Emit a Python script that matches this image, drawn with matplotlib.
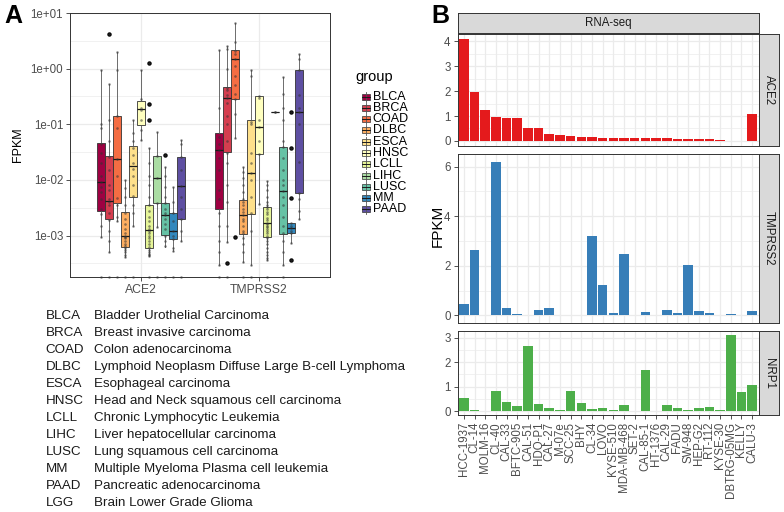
import matplotlib
matplotlib.use("Agg")
import matplotlib.pyplot as plt
from matplotlib.patches import Rectangle
from matplotlib.ticker import FixedLocator, FuncFormatter, MultipleLocator

plt.rcParams["font.family"] = ["Liberation Sans", "DejaVu Sans"]

W, H = 784, 512

# ---- panel A data (TCGA, FPKM, log scale) ----
GROUPS = ["BLCA", "BRCA", "COAD", "DLBC", "ESCA", "HNSC",
          "LCLL", "LIHC", "LUSC", "MM", "PAAD"]
GROUP_COLORS = ["#9E0142", "#D53E4F", "#F46D43", "#FDAE61", "#FEE08B",
                "#FFFFBF", "#E6F598", "#ABDDA4", "#66C2A5", "#3288BD",
                "#5E4FA2"]
GENES_A = ["ACE2", "TMPRSS2"]

ACE2_LO = [0.00096, 0.0005, 0.0018, 0.00041, 0.0015, 0.053, 0.00043,
           0.00145, 0.00063, 0.00052, 0.00079]
ACE2_Q1 = [0.0028, 0.002, 0.0039, 0.00063, 0.0049, 0.098, 0.00059,
           0.0039, 0.00103, 0.00087, 0.002]
ACE2_MED = [0.0093, 0.0041, 0.024, 0.00097, 0.018, 0.19, 0.00126,
            0.0107, 0.0023, 0.0012, 0.0079]
ACE2_Q3 = [0.047, 0.027, 0.14, 0.0026, 0.040, 0.26, 0.0035,
           0.027, 0.0038, 0.0025, 0.026]
ACE2_HI = [0.95, 0.52, 2.0, 0.010, 0.12, 0.95, 0.037,
           0.074, 0.017, 0.0076, 0.052]
ACE2_OUT = [[], [4.2], [], [], [], [], [1.26, 0.23, 0.12], [], [0.028], [], []]
ACE2_PTS = [
    [0.95, 0.1, 0.085, 0.045, 0.03, 0.02, 0.012, 0.009, 0.0075, 0.006,
     0.0045, 0.003, 0.0024, 0.0015, 0.00096, 0],
    [4.2, 0.52, 0.12, 0.05, 0.026, 0.015, 0.008, 0.0065, 0.0045, 0.004,
     0.0035, 0.0025, 0.0019, 0.0012, 0.0008, 0.0005, 0],
    [2.0, 0.95, 0.14, 0.085, 0.024, 0.012, 0.0048, 0.0035, 0.0022, 0.0018, 0],
    [0.01, 0.0072, 0.005, 0.0035, 0.0025, 0.002, 0.0016, 0.0013, 0.0011,
     0.001, 0.00095, 0.0009, 0.0008, 0.0007, 0.00065, 0.0006, 0.00055,
     0.0005, 0.00045, 0.00041, 0],
    [0.12, 0.07, 0.05, 0.038, 0.028, 0.02, 0.016, 0.012, 0.008, 0.0052,
     0.0035, 0.0025, 0.0015, 0],
    [0.95, 0.28, 0.2, 0.18, 0.12, 0.08, 0.053],
    [1.26, 0.23, 0.12, 0.037, 0.02, 0.012, 0.008, 0.005, 0.0035, 0.0028,
     0.0022, 0.0018, 0.0015, 0.0013, 0.0012, 0.0011, 0.001, 0.0009, 0.0008,
     0.0007, 0.00062, 0.00055, 0.0005, 0.00047, 0.00045, 0.00043, 0],
    [0.074, 0.027, 0.0107, 0.0039, 0.00145, 0],
    [0.028, 0.017, 0.012, 0.0075, 0.005, 0.0038, 0.003, 0.0025, 0.0023,
     0.002, 0.0016, 0.0013, 0.001, 0.0008, 0.00065, 0],
    [0.0076, 0.004, 0.0025, 0.0018, 0.0012, 0.001, 0.00088, 0.0006,
     0.00052, 0],
    [0.052, 0.045, 0.026, 0.015, 0.0079, 0.005, 0.003, 0.002, 0.0012,
     0.00079, 0],
]

TMPRSS2_LO = [0.0003, 0.00078, 0.056, 0.00034, 0.0003, 0.0037, 0.00036,
              0.165, 0.0003, 0.00073, 0.002]
TMPRSS2_Q1 = [0.003, 0.032, 0.28, 0.00107, 0.0024, 0.029, 0.00096,
              0.165, 0.00107, 0.0011, 0.0059]
TMPRSS2_MED = [0.034, 0.30, 1.49, 0.0023, 0.0135, 0.089, 0.00166,
               0.165, 0.0064, 0.00135, 0.165]
TMPRSS2_Q3 = [0.071, 0.47, 2.2, 0.0044, 0.117, 0.32, 0.0033,
              0.165, 0.039, 0.0017, 0.93]
TMPRSS2_HI = [2.2, 2.6, 6.5, 0.017, 0.93, 0.32, 0.0097,
              0.165, 0.72, 0.0017, 1.86]
TMPRSS2_OUT = [[], [0.00032], [0.00093], [], [], [], [], [], [],
               [0.165, 0.037, 0.0047, 0.00036], []]
TMPRSS2_PTS = [
    [2.2, 0.2, 0.06, 0.045, 0.034, 0.025, 0.015, 0.0065, 0.0045, 0.0025,
     0.0015, 0.0008, 0.0005, 0.0003, 0],
    [2.6, 2.3, 1.0, 0.45, 0.42, 0.33, 0.3, 0.24, 0.14, 0.1, 0.05, 0.03,
     0.02, 0.008, 0.004, 0.0015, 0.00078, 0.00032, 0],
    [6.5, 3.0, 2.1, 1.8, 1.5, 1.1, 0.75, 0.5, 0.35, 0.28, 0.15, 0.056,
     0.00093],
    [0.017, 0.014, 0.011, 0.008, 0.006, 0.0045, 0.004, 0.0035, 0.003,
     0.0026, 0.0023, 0.002, 0.0018, 0.0015, 0.0012, 0.0011, 0.0009,
     0.0007, 0.0005, 0.00034, 0],
    [0.93, 0.75, 0.11, 0.1, 0.03, 0.02, 0.0135, 0.01, 0.005, 0.0025,
     0.0012, 0.0003, 0],
    [0.32, 0.3, 0.12, 0.089, 0.05, 0.029, 0.0037],
    [0.0097, 0.008, 0.0065, 0.005, 0.004, 0.0035, 0.0033, 0.003, 0.0027,
     0.0024, 0.0021, 0.0019, 0.0017, 0.0016, 0.0015, 0.0014, 0.0013,
     0.0012, 0.0011, 0.001, 0.0009, 0.0008, 0.0007, 0.0006, 0.0005,
     0.00045, 0.0004, 0.00036, 0],
    [0.165, 0.165],
    [0.72, 0.35, 0.2, 0.12, 0.05, 0.039, 0.025, 0.015, 0.01, 0.008,
     0.0064, 0.005, 0.0035, 0.0022, 0.0015, 0.0011, 0.0008, 0.0005,
     0.0003, 0],
    [0.165, 0.037, 0.0047, 0.0017, 0.0015, 0.00135, 0.0012, 0.0011,
     0.00073, 0.00036],
    [1.86, 1.5, 0.93, 0.33, 0.2, 0.165, 0.1, 0.021, 0.0059, 0.0045,
     0.0028, 0.002],
]

TCGA_CODES = GROUPS + ["LGG"]
TCGA_NAMES = [
    "Bladder Urothelial Carcinoma",
    "Breast invasive carcinoma",
    "Colon adenocarcinoma",
    "Lymphoid Neoplasm Diffuse Large B-cell Lymphoma",
    "Esophageal carcinoma",
    "Head and Neck squamous cell carcinoma",
    "Chronic Lymphocytic Leukemia",
    "Liver hepatocellular carcinoma",
    "Lung squamous cell carcinoma",
    "Multiple Myeloma Plasma cell leukemia",
    "Pancreatic adenocarcinoma",
    "Brain Lower Grade Glioma",
]

# ---- panel B data (cell lines, RNA-seq FPKM) ----
CELL_LINES = ["HCC-1937", "CL-14", "MOLM-16", "CL-40", "CAL-33",
              "BFTC-905", "CAL-51", "HDQ-P1", "CAL-27", "M-07e", "SCC-25",
              "BHY", "CL-34", "LOVO", "KYSE-510", "MDA-MB-468", "SET-2",
              "CAL-85-1", "HT-1376", "CAL-29", "FADU", "SW-948", "HEP-G2",
              "RT-112", "KYSE-30", "DBTRG-05MG", "KELLY", "CALU-3"]
ACE2_B = [4.09, 1.95, 1.25, 0.95, 0.93, 0.93, 0.51, 0.51, 0.28, 0.23,
          0.20, 0.16, 0.16, 0.13, 0.12, 0.12, 0.12, 0.11, 0.11, 0.10,
          0.09, 0.09, 0.08, 0.07, 0.05, 0.01, 0.01, 1.10]
TMPRSS2_B = [0.45, 2.63, 0.0, 6.2, 0.31, 0.04, 0.02, 0.23, 0.31, 0.0,
             0.0, 0.0, 3.19, 1.23, 0.11, 2.47, 0.0, 0.12, 0.03, 0.21,
             0.09, 2.03, 0.17, 0.08, 0.01, 0.07, 0.0, 0.17]
NRP1_B = [0.54, 0.03, 0.0, 0.81, 0.38, 0.23, 2.66, 0.28, 0.15, 0.03,
          0.84, 0.32, 0.09, 0.13, 0.06, 0.25, 0.0, 1.68, 0.01, 0.25,
          0.11, 0.03, 0.13, 0.16, 0.06, 3.12, 0.79, 1.05]
GENES_B = ["ACE2", "TMPRSS2", "NRP1"]
GENE_COLORS_B = ["#E41A1C", "#377EB8", "#4DAF4A"]

GRID = "#EBEBEB"
BORDER = "#333333"
TICKTXT = "#4D4D4D"


def px_axes(fig, x0, y0, x1, y1):
    return fig.add_axes([x0 / W, 1 - y1 / H, (x1 - x0) / W, (y1 - y0) / H])


def style_axes(ax):
    for s in ax.spines.values():
        s.set_color(BORDER)
        s.set_linewidth(0.7)
    ax.tick_params(colors=BORDER, labelcolor=TICKTXT, labelsize=8.3,
                   length=3, width=0.6, pad=2)
    ax.tick_params(which="minor", length=0)
    ax.set_axisbelow(True)


fig = plt.figure(figsize=(W / 100, H / 100), dpi=100)

# ---------------- panel A ----------------
axA = px_axes(fig, 70, 13, 330, 277)
style_axes(axA)
axA.set_yscale("log")
ymin_a = 1.8e-4

gene_sets = [
    (ACE2_LO, ACE2_Q1, ACE2_MED, ACE2_Q3, ACE2_HI, ACE2_OUT, ACE2_PTS),
    (TMPRSS2_LO, TMPRSS2_Q1, TMPRSS2_MED, TMPRSS2_Q3, TMPRSS2_HI,
     TMPRSS2_OUT, TMPRSS2_PTS),
]
dodge = 0.75 / len(GROUPS)
for g, (lo, q1, med, q3, hi, outs, pts) in enumerate(gene_sets):
    for j, grp in enumerate(GROUPS):
        pos = (g + 1) - 0.375 + (j + 0.5) * dodge
        st = [dict(whislo=lo[j], q1=q1[j], med=med[j], q3=q3[j],
                   whishi=hi[j], fliers=outs[j])]
        axA.bxp(st, positions=[pos], widths=dodge, patch_artist=True,
                showcaps=False, manage_ticks=False,
                boxprops=dict(facecolor=GROUP_COLORS[j], edgecolor=BORDER,
                              lw=0.6),
                medianprops=dict(color="#1A1A1A", lw=0.9),
                whiskerprops=dict(color="#555555", lw=0.6),
                flierprops=dict(marker="o", markerfacecolor="black",
                                markeredgecolor="none", markersize=3.2))
        vals = [v if v > 0 else ymin_a for v in pts[j]]
        axA.scatter([pos] * len(vals), vals, s=3.5, color="#333333",
                    alpha=0.55, lw=0, zorder=4, clip_on=False)

axA.set_ylim(ymin_a, 10)
axA.set_xlim(0.4, 2.6)
axA.yaxis.set_major_locator(FixedLocator([1e-3, 1e-2, 1e-1, 1, 10]))
axA.yaxis.set_minor_locator(FixedLocator([10 ** (k + 0.5) for k in range(-4, 1)]))
axA.yaxis.set_major_formatter(FuncFormatter(lambda v, p: "{:.0e}".format(v)))
axA.yaxis.set_minor_formatter(FuncFormatter(lambda v, p: ""))
axA.set_xticks([1, 2])
axA.set_xticklabels(GENES_A, fontsize=8.8)
axA.grid(True, which="major", color=GRID, lw=0.9)
axA.grid(True, which="minor", axis="y", color=GRID, lw=0.5)

axA.set_ylabel("FPKM", fontsize=9, color="black")
axA.yaxis.label.set_va("center")
axA.yaxis.set_label_coords(-0.2, 0.5)

# legend for panel A
legA = px_axes(fig, 350, 60, 440, 225)
legA.set_xlim(350, 440)
legA.set_ylim(225, 60)
legA.axis("off")
legA.text(355, 77, "group", fontsize=10.5, va="center", ha="left")
for j, grp in enumerate(GROUPS):
    y = 96.7 + j * 11.26
    legA.plot([365.5, 365.5], [y - 5, y + 5], color="#555555", lw=0.6)
    legA.add_patch(Rectangle((361.5, y - 3), 8, 6, facecolor=GROUP_COLORS[j],
                             edgecolor=BORDER, lw=0.5))
    legA.plot([361.5, 369.5], [y, y], color="#1A1A1A", lw=0.7)
    legA.text(372.5, y, grp, fontsize=9, va="center", ha="left")

# abbreviation table
for i, (code, name) in enumerate(zip(TCGA_CODES, TCGA_NAMES)):
    y = 316 + i * 17.03
    fig.text(45.7 / W, 1 - y / H, code, fontsize=9.6, va="center",
             color="#1A1A1A")
    fig.text(94.3 / W, 1 - y / H, name, fontsize=9.6, va="center",
             color="#1A1A1A")

fig.text(13 / W, 1 - 16 / H, "A", fontsize=18, fontweight="bold",
         ha="center", va="center")
fig.text(440 / W, 1 - 16 / H, "B", fontsize=18, fontweight="bold",
         ha="center", va="center")

# ---------------- panel B ----------------
tops = [34, 154, 331]
bots = [146, 323, 415]
xl, xr = 457.5, 758.5
values_b = [ACE2_B, TMPRSS2_B, NRP1_B]
yticks_b = [[0, 1, 2, 3, 4], [0, 2, 4, 6], [0, 1, 2, 3]]
xs = list(range(len(CELL_LINES)))

strip = px_axes(fig, xl, 13, xr, 33)
strip.set_facecolor("#D9D9D9")
strip.set_xticks([])
strip.set_yticks([])
for s in strip.spines.values():
    s.set_color(BORDER)
    s.set_linewidth(0.7)
strip.text(0.5, 0.5, "RNA-seq", transform=strip.transAxes, ha="center",
           va="center", fontsize=8.3, color="#1A1A1A")

for k, gene in enumerate(GENES_B):
    ax = px_axes(fig, xl, tops[k], xr, bots[k])
    style_axes(ax)
    vals = values_b[k]
    ax.bar(xs, vals, width=0.9, color=GENE_COLORS_B[k], zorder=2)
    vmax = max(vals)
    ax.set_ylim(-0.05 * vmax, 1.05 * vmax)
    ax.set_xlim(-0.6, len(CELL_LINES) - 0.4)
    ticks = yticks_b[k]
    step = ticks[1] - ticks[0]
    ax.yaxis.set_major_locator(FixedLocator(ticks))
    ax.yaxis.set_minor_locator(MultipleLocator(step / 2))
    ax.set_xticks(xs)
    ax.grid(True, which="major", color=GRID, lw=0.9)
    ax.grid(True, which="minor", axis="y", color=GRID, lw=0.5)
    if k < 2:
        ax.tick_params(axis="x", length=0, labelbottom=False)
    else:
        ax.set_xticklabels(CELL_LINES, rotation=90, fontsize=8.3)

    rs = px_axes(fig, 759, tops[k], 779, bots[k])
    rs.set_facecolor("#D9D9D9")
    rs.set_xticks([])
    rs.set_yticks([])
    for s in rs.spines.values():
        s.set_color(BORDER)
        s.set_linewidth(0.7)
    rs.text(0.5, 0.5, gene, transform=rs.transAxes, rotation=-90,
            ha="center", va="center", fontsize=8.3, color="#1A1A1A")

fig.text(438 / W, 1 - 226 / H, "FPKM", rotation=90, fontsize=11,
         ha="center", va="center")

fig.savefig("out.png", dpi=100)
